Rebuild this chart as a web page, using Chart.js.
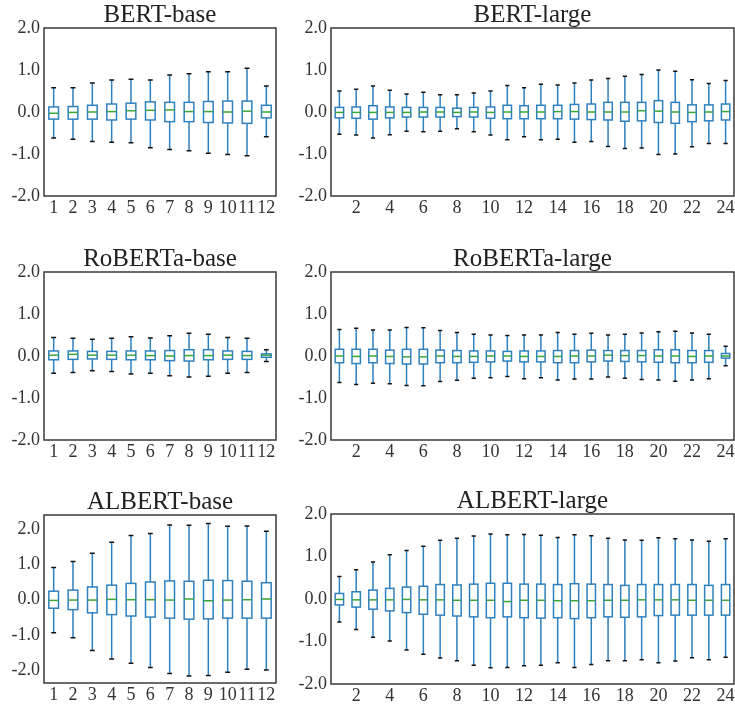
<!DOCTYPE html>
<html>
<head>
<meta charset="utf-8">
<script src="https://cdn.jsdelivr.net/npm/chart.js@4.4.0/dist/chart.umd.min.js"></script>
<style>
  body { margin: 0; background: #fff; overflow: hidden; width: 735px; height: 705px; position: relative; }
  canvas { position: absolute; }
</style>
</head>
<body>
<canvas id="bertBase"></canvas>
<canvas id="bertLarge"></canvas>
<canvas id="robertaBase"></canvas>
<canvas id="robertaLarge"></canvas>
<canvas id="albertBase"></canvas>
<canvas id="albertLarge"></canvas>
<script>
// layers and tick labels
const layers12 = [1, 2, 3, 4, 5, 6, 7, 8, 9, 10, 11, 12];
const layers24 = [1, 2, 3, 4, 5, 6, 7, 8, 9, 10, 11, 12, 13, 14, 15, 16, 17, 18, 19, 20, 21, 22, 23, 24];
const xTicks12 = [1, 2, 3, 4, 5, 6, 7, 8, 9, 10, 11, 12];
const xTicks24 = [2, 4, 6, 8, 10, 12, 14, 16, 18, 20, 22, 24];
const yTicks = [-2, -1, 0, 1, 2];

// BERT-base
const bertBaseHigh = [0.58, 0.58, 0.69, 0.76, 0.78, 0.76, 0.88, 0.91, 0.96, 0.96, 1.04, 0.62];
const bertBaseQ3   = [0.12, 0.13, 0.16, 0.19, 0.21, 0.24, 0.23, 0.23, 0.25, 0.26, 0.26, 0.16];
const bertBaseMed  = [-0.03, -0.01, 0.0, 0.01, 0.03, 0.04, 0.05, 0.01, 0.01, 0.0, 0.02, 0.0];
const bertBaseQ1   = [-0.17, -0.17, -0.17, -0.19, -0.17, -0.19, -0.23, -0.23, -0.25, -0.26, -0.27, -0.14];
const bertBaseLow  = [-0.62, -0.65, -0.70, -0.72, -0.73, -0.85, -0.89, -0.92, -0.98, -1.01, -1.04, -0.59];

// BERT-large
const bertLargeHigh = [0.50, 0.54, 0.62, 0.52, 0.43, 0.47, 0.41, 0.41, 0.45, 0.50, 0.63, 0.58, 0.66, 0.64, 0.69, 0.76, 0.80, 0.85, 0.89, 1.00, 0.97, 0.77, 0.68, 0.75];
const bertLargeQ3   = [0.11, 0.12, 0.15, 0.12, 0.11, 0.11, 0.11, 0.09, 0.11, 0.12, 0.16, 0.15, 0.16, 0.16, 0.18, 0.19, 0.23, 0.23, 0.23, 0.27, 0.23, 0.17, 0.17, 0.19];
const bertLargeMed  = [-0.01, -0.01, -0.01, -0.01, -0.01, 0.0, 0.0, -0.01, 0.0, -0.01, 0.0, 0.0, 0.0, 0.01, 0.01, 0.0, 0.0, 0.0, 0.03, 0.02, 0.0, -0.01, 0.0, 0.01];
const bertLargeQ1   = [-0.14, -0.15, -0.17, -0.14, -0.12, -0.12, -0.12, -0.11, -0.12, -0.15, -0.16, -0.16, -0.16, -0.16, -0.17, -0.18, -0.19, -0.22, -0.21, -0.25, -0.27, -0.23, -0.21, -0.19];
const bertLargeLow  = [-0.53, -0.55, -0.62, -0.54, -0.46, -0.47, -0.46, -0.40, -0.47, -0.55, -0.66, -0.59, -0.66, -0.65, -0.72, -0.70, -0.82, -0.87, -0.86, -1.01, -1.00, -0.83, -0.75, -0.75];

// RoBERTa-base
const robertaBaseHigh = [0.44, 0.42, 0.40, 0.42, 0.46, 0.43, 0.48, 0.54, 0.52, 0.44, 0.42, 0.15];
const robertaBaseQ3   = [0.12, 0.12, 0.11, 0.11, 0.12, 0.12, 0.13, 0.15, 0.15, 0.12, 0.11, 0.05];
const robertaBaseMed  = [0.02, 0.04, 0.02, 0.02, 0.02, 0.01, 0.0, 0.01, 0.01, 0.02, 0.01, 0.02];
const robertaBaseQ1   = [-0.09, -0.08, -0.07, -0.08, -0.09, -0.09, -0.11, -0.12, -0.09, -0.08, -0.08, -0.03];
const robertaBaseLow  = [-0.41, -0.39, -0.35, -0.37, -0.43, -0.41, -0.47, -0.50, -0.48, -0.41, -0.39, -0.13];

// RoBERTa-large
const robertaLargeHigh = [0.63, 0.66, 0.62, 0.62, 0.68, 0.67, 0.61, 0.56, 0.52, 0.50, 0.49, 0.50, 0.50, 0.56, 0.52, 0.54, 0.50, 0.52, 0.55, 0.58, 0.59, 0.55, 0.52, 0.23];
const robertaLargeQ3   = [0.16, 0.16, 0.16, 0.14, 0.16, 0.16, 0.14, 0.13, 0.12, 0.12, 0.11, 0.12, 0.12, 0.13, 0.13, 0.14, 0.13, 0.13, 0.13, 0.15, 0.15, 0.13, 0.13, 0.06];
const robertaLargeMed  = [0.0, -0.01, 0.0, -0.01, -0.02, -0.02, 0.0, -0.01, -0.01, 0.0, 0.0, -0.01, -0.01, -0.01, 0.0, 0.0, 0.02, 0.01, 0.01, 0.0, 0.0, -0.01, 0.0, 0.0];
const robertaLargeQ1   = [-0.16, -0.18, -0.16, -0.18, -0.19, -0.19, -0.16, -0.16, -0.15, -0.14, -0.12, -0.14, -0.14, -0.16, -0.16, -0.14, -0.12, -0.13, -0.14, -0.15, -0.16, -0.16, -0.15, -0.05];
const robertaLargeLow  = [-0.63, -0.68, -0.65, -0.66, -0.70, -0.71, -0.61, -0.58, -0.53, -0.52, -0.49, -0.54, -0.52, -0.57, -0.55, -0.55, -0.50, -0.53, -0.56, -0.57, -0.60, -0.57, -0.54, -0.23];

// ALBERT-base
const albertBaseHigh = [0.91, 1.08, 1.31, 1.62, 1.81, 1.87, 2.11, 2.10, 2.15, 2.07, 2.08, 1.93];
const albertBaseQ3   = [0.24, 0.27, 0.36, 0.41, 0.46, 0.50, 0.53, 0.52, 0.55, 0.54, 0.52, 0.48];
const albertBaseMed  = [-0.02, -0.01, -0.01, 0.01, 0.0, 0.0, -0.01, 0.02, -0.03, -0.01, 0.0, 0.02];
const albertBaseQ1   = [-0.24, -0.28, -0.37, -0.42, -0.46, -0.49, -0.52, -0.55, -0.54, -0.52, -0.52, -0.52];
const albertBaseLow  = [-0.93, -1.07, -1.43, -1.67, -1.79, -1.91, -2.08, -2.15, -2.14, -2.05, -1.96, -1.98];

// ALBERT-large
const albertLargeHigh = [0.53, 0.69, 0.87, 1.04, 1.14, 1.24, 1.38, 1.43, 1.48, 1.53, 1.51, 1.52, 1.50, 1.45, 1.51, 1.49, 1.43, 1.39, 1.38, 1.44, 1.42, 1.39, 1.36, 1.42];
const albertLargeQ3   = [0.13, 0.17, 0.21, 0.25, 0.28, 0.30, 0.34, 0.33, 0.35, 0.37, 0.37, 0.35, 0.35, 0.34, 0.36, 0.35, 0.34, 0.32, 0.34, 0.34, 0.34, 0.34, 0.32, 0.34];
const albertLargeMed  = [-0.01, -0.02, -0.02, -0.02, -0.01, -0.02, -0.02, -0.03, -0.03, -0.03, -0.06, -0.03, -0.03, -0.04, -0.04, -0.04, -0.03, -0.03, -0.02, -0.02, -0.02, -0.03, -0.03, -0.03];
const albertLargeQ1   = [-0.14, -0.19, -0.24, -0.28, -0.32, -0.36, -0.38, -0.40, -0.42, -0.44, -0.42, -0.44, -0.45, -0.44, -0.46, -0.44, -0.42, -0.43, -0.42, -0.39, -0.38, -0.38, -0.38, -0.38];
const albertLargeLow  = [-0.54, -0.72, -0.90, -0.99, -1.20, -1.30, -1.39, -1.45, -1.56, -1.62, -1.61, -1.57, -1.56, -1.50, -1.61, -1.54, -1.45, -1.45, -1.43, -1.50, -1.46, -1.38, -1.43, -1.37];

const FONT = 'Liberation Serif';
const TITLE_SIZE = 25;

// draws the boxes, whiskers, caps and medians from the dataset arrays
const boxPlugin = {
  id: 'boxes',
  afterDatasetsDraw(chart) {
    const ctx = chart.ctx;
    const xs = chart.scales.x, ys = chart.scales.y;
    const b = chart.data.datasets[0].box;
    ctx.save();
    ctx.lineWidth = 1.5;
    b.layers.forEach((l, i) => {
      const cx = xs.getPixelForValue(l);
      const half = xs.getPixelForValue(l + 0.25) - cx;
      const yHigh = ys.getPixelForValue(b.high[i]);
      const yQ3 = ys.getPixelForValue(b.q3[i]);
      const yMed = ys.getPixelForValue(b.med[i]);
      const yQ1 = ys.getPixelForValue(b.q1[i]);
      const yLow = ys.getPixelForValue(b.low[i]);

      ctx.strokeStyle = '#2f80bf';
      ctx.beginPath();
      ctx.moveTo(cx, yQ3); ctx.lineTo(cx, yHigh);
      ctx.moveTo(cx, yQ1); ctx.lineTo(cx, yLow);
      ctx.stroke();
      ctx.strokeRect(cx - half, yQ3, half * 2, yQ1 - yQ3);

      ctx.strokeStyle = '#111';
      ctx.beginPath();
      ctx.moveTo(cx - half / 2, yHigh); ctx.lineTo(cx + half / 2, yHigh);
      ctx.moveTo(cx - half / 2, yLow); ctx.lineTo(cx + half / 2, yLow);
      ctx.stroke();

      ctx.strokeStyle = '#3aa53a';
      ctx.beginPath();
      ctx.moveTo(cx - half, yMed); ctx.lineTo(cx + half, yMed);
      ctx.stroke();
    });
    ctx.restore();
  },
  afterDraw(chart) {
    const a = chart.chartArea;
    const ctx = chart.ctx;
    ctx.save();
    ctx.strokeStyle = '#3a3a3a';
    ctx.lineWidth = 1.5;
    ctx.strokeRect(a.left, a.top, a.right - a.left, a.bottom - a.top);
    ctx.restore();
  }
};

function makePanel(id, title, layers, xTicks, low, q1, med, q3, high, area, yMin, yMax, titlePad) {
  const yAxisW = area.left < 100 ? 44 : 41;
  const titleH = TITLE_SIZE + titlePad.top + titlePad.bottom;
  const canvasLeft = area.left - yAxisW;
  const canvasTop = area.top - titleH;
  const canvas = document.getElementById(id);
  canvas.width = area.right - canvasLeft + 12;
  canvas.height = area.bottom - canvasTop + 24;
  canvas.style.left = canvasLeft + 'px';
  canvas.style.top = canvasTop + 'px';

  new Chart(canvas, {
    type: 'scatter',
    data: {
      datasets: [{
        data: layers.map((l, i) => ({ x: l, y: med[i] })),
        pointRadius: 0,
        box: { layers: layers, low: low, q1: q1, med: med, q3: q3, high: high }
      }]
    },
    options: {
      responsive: false,
      animation: false,
      events: [],
      layout: { padding: { left: 0, right: 12, top: 0, bottom: 0 } },
      plugins: {
        legend: { display: false },
        tooltip: { enabled: false },
        title: {
          display: true,
          fullSize: false,
          text: title,
          color: '#222',
          font: { family: FONT, size: TITLE_SIZE, weight: 'normal', lineHeight: 1 },
          padding: titlePad
        }
      },
      scales: {
        x: {
          type: 'linear',
          min: layers[0] - 0.5,
          max: layers[layers.length - 1] + 0.5,
          grid: { display: false, drawTicks: false },
          border: { display: false },
          afterBuildTicks: s => { s.ticks = xTicks.map(v => ({ value: v })); },
          afterFit: s => { s.height = 24; },
          ticks: {
            autoSkip: false, maxRotation: 0, padding: 1, color: '#333',
            font: { family: FONT, size: 18 },
            callback: v => String(v)
          }
        },
        y: {
          min: yMin,
          max: yMax,
          grid: { display: false, drawTicks: false },
          border: { display: false },
          afterBuildTicks: s => { s.ticks = yTicks.map(v => ({ value: v })); },
          afterFit: s => { s.width = yAxisW; },
          ticks: {
            padding: 4, color: '#333',
            font: { family: FONT, size: 18 },
            callback: v => v.toFixed(1)
          }
        }
      }
    },
    plugins: [boxPlugin]
  });
}

const padTop = { top: 3, bottom: 0 };
const padLow = { top: 6, bottom: 0 };

makePanel('bertBase', 'BERT-base', layers12, xTicks12,
  bertBaseLow, bertBaseQ1, bertBaseMed, bertBaseQ3, bertBaseHigh,
  { left: 44, top: 28, right: 276, bottom: 196 }, -2, 2, padTop);
makePanel('bertLarge', 'BERT-large', layers24, xTicks24,
  bertLargeLow, bertLargeQ1, bertLargeMed, bertLargeQ3, bertLargeHigh,
  { left: 331, top: 28, right: 734, bottom: 196 }, -2, 2, padTop);
makePanel('robertaBase', 'RoBERTa-base', layers12, xTicks12,
  robertaBaseLow, robertaBaseQ1, robertaBaseMed, robertaBaseQ3, robertaBaseHigh,
  { left: 44, top: 272, right: 276, bottom: 440 }, -2, 2, padTop);
makePanel('robertaLarge', 'RoBERTa-large', layers24, xTicks24,
  robertaLargeLow, robertaLargeQ1, robertaLargeMed, robertaLargeQ3, robertaLargeHigh,
  { left: 331, top: 272, right: 734, bottom: 440 }, -2, 2, padTop);
makePanel('albertBase', 'ALBERT-base', layers12, xTicks12,
  albertBaseLow, albertBaseQ1, albertBaseMed, albertBaseQ3, albertBaseHigh,
  { left: 44, top: 515, right: 276, bottom: 683 }, -2.35, 2.39, padLow);
makePanel('albertLarge', 'ALBERT-large', layers24, xTicks24,
  albertLargeLow, albertLargeQ1, albertLargeMed, albertLargeQ3, albertLargeHigh,
  { left: 331, top: 514, right: 734, bottom: 684 }, -2, 2, padLow);
</script>
</body>
</html>
